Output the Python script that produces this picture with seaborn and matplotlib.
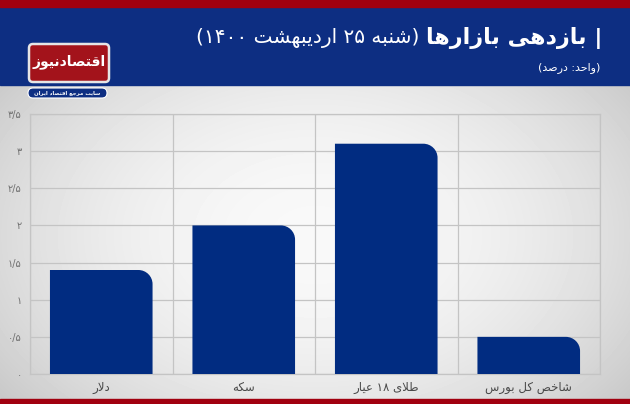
import re
import numpy as np
import pandas as pd
import matplotlib
matplotlib.use("Agg")
import matplotlib.pyplot as plt
import seaborn as sns
from matplotlib.patches import Rectangle, FancyBboxPatch, PathPatch
from matplotlib.path import Path

# data
categories = ['دلار', 'سکه', 'طلای ۱۸ عیار', 'شاخص کل بورس']
values = [1.4, 2.0, 3.1, 0.5]
ytick_values = [0, 0.5, 1, 1.5, 2, 2.5, 3, 3.5]
ytick_labels = ['۰', '۰/۵', '۱', '۱/۵', '۲', '۲/۵', '۳', '۳/۵']
title_main = '| بازدهی بازارها'
title_date = '(شنبه ۲۵ اردیبهشت ۱۴۰۰)'
subtitle = '(واحد: درصد)'
logo_name = 'اقتصادنیوز'
logo_tag = 'سایت مرجع اقتصاد ایران'

# --- tiny Persian shaper (matplotlib does no Arabic shaping / bidi) ---
FORMS = {
    'ا': ('\uFE8D', '\uFE8E', None, None),
    'ب': ('\uFE8F', '\uFE90', '\uFE91', '\uFE92'),
    'ت': ('\uFE95', '\uFE96', '\uFE97', '\uFE98'),
    'ج': ('\uFE9D', '\uFE9E', '\uFE9F', '\uFEA0'),
    'ح': ('\uFEA1', '\uFEA2', '\uFEA3', '\uFEA4'),
    'خ': ('\uFEA5', '\uFEA6', '\uFEA7', '\uFEA8'),
    'د': ('\uFEA9', '\uFEAA', None, None),
    'ر': ('\uFEAD', '\uFEAE', None, None),
    'ز': ('\uFEAF', '\uFEB0', None, None),
    'س': ('\uFEB1', '\uFEB2', '\uFEB3', '\uFEB4'),
    'ش': ('\uFEB5', '\uFEB6', '\uFEB7', '\uFEB8'),
    'ص': ('\uFEB9', '\uFEBA', '\uFEBB', '\uFEBC'),
    'ط': ('\uFEC1', '\uFEC2', '\uFEC3', '\uFEC4'),
    'ع': ('\uFEC9', '\uFECA', '\uFECB', '\uFECC'),
    'ق': ('\uFED5', '\uFED6', '\uFED7', '\uFED8'),
    'ل': ('\uFEDD', '\uFEDE', '\uFEDF', '\uFEE0'),
    'م': ('\uFEE1', '\uFEE2', '\uFEE3', '\uFEE4'),
    'ن': ('\uFEE5', '\uFEE6', '\uFEE7', '\uFEE8'),
    'ه': ('\uFEE9', '\uFEEA', '\uFEEB', '\uFEEC'),
    'و': ('\uFEED', '\uFEEE', None, None),
    'ک': ('\uFB8E', '\uFB8F', '\uFB90', '\uFB91'),
    'ی': ('\uFBFC', '\uFBFD', '\uFBFE', '\uFBFF'),
}
MIRROR = {'(': ')', ')': '('}


def dual(c):
    return c in FORMS and FORMS[c][2] is not None


def shape(s):
    out = []
    i = 0
    while i < len(s):
        c = s[i]
        if c not in FORMS:
            out.append(c)
            i += 1
            continue
        prev = s[i - 1] if i > 0 else ''
        join_prev = dual(prev)
        if c == 'ل' and i + 1 < len(s) and s[i + 1] == 'ا':
            out.append('\uFEFC' if join_prev else '\uFEFB')
            i += 2
            continue
        nxt = s[i + 1] if i + 1 < len(s) else ''
        join_next = dual(c) and nxt in FORMS
        iso, fin, ini, med = FORMS[c]
        if join_prev and join_next:
            out.append(med)
        elif join_prev:
            out.append(fin)
        elif join_next:
            out.append(ini)
        else:
            out.append(iso)
        i += 1
    return ''.join(out)


def fa(s):
    tokens = re.findall(r'[0-9\u06F0-\u06F9]+|.', shape(s))
    return ''.join(MIRROR.get(t, t) for t in reversed(tokens))


sns.set_style("white")
plt.rcParams['font.family'] = ['DejaVu Sans']

W, H = 630, 404
fig = plt.figure(figsize=(W / 100, H / 100), dpi=100)

# background layer in pixel coordinates
bg = fig.add_axes([0, 0, 1, 1], zorder=0)
bg.set_xlim(0, W)
bg.set_ylim(H, 0)
bg.axis('off')

yy, xx = np.mgrid[0:H, 0:W]
r = np.sqrt(((xx - 315) / 340.0) ** 2 + ((yy - 235) / 230.0) ** 2)
shade = np.clip(0.975 - 0.14 * r ** 2, 0.78, 1)
bg.imshow(shade, cmap='gray', vmin=0, vmax=1, extent=(0, W, H, 0), aspect='auto')

bg.add_patch(Rectangle((0, 0), W, 85, color='#0d2e82'))
bg.add_patch(Rectangle((0, 0), W, 7, color='#a1000f'))
bg.add_patch(Rectangle((0, 399), W, 5, color='#a1000f'))

# titles
t1 = bg.text(603, 38, fa(title_main), color='white', fontsize=16, fontweight='bold',
             ha='right', va='center')
bg.annotate(fa(title_date), xy=(0, 0.5), xycoords=t1, xytext=(-5, 0),
            textcoords='offset points', color='white', fontsize=14.5,
            ha='right', va='center')
bg.text(600, 68, fa(subtitle), color='white', fontsize=8, ha='right', va='center')

# logo
bg.add_patch(FancyBboxPatch((29, 44), 80, 38, boxstyle='round,pad=0,rounding_size=4',
                            fc='#a3131b', ec='#e6e6e6', lw=1.8))
bg.text(69, 62, fa(logo_name), color='white', fontsize=10, fontweight='bold',
        ha='center', va='center')
bg.add_patch(FancyBboxPatch((28, 88), 79, 10, boxstyle='round,pad=0,rounding_size=5',
                            fc='#0d2e82', ec='white', lw=0.8))
bg.text(67.5, 93, fa(logo_tag), color='white', fontsize=3.9, fontweight='bold',
        ha='center', va='center')

# chart
ax = fig.add_axes([30 / W, 1 - 374 / H, 570 / W, 260 / H], zorder=1)
ax.patch.set_alpha(0)

df = pd.DataFrame({'market': [fa(c) for c in categories], 'value': values})
bar_color = '#012c81'
sns.barplot(data=df, x='market', y='value', color=bar_color, saturation=1,
            width=0.72, ax=ax, zorder=3)

# round only the top-right corner of each bar
rx, ry = 0.1, 0.19
k = 0.5523
for p in list(ax.patches):
    x0, w, h = p.get_x(), p.get_width(), p.get_height()
    x1 = x0 + w
    verts = [(x0, 0), (x0, h), (x1 - rx, h),
             (x1 - rx + k * rx, h), (x1, h - ry + k * ry), (x1, h - ry),
             (x1, 0), (x0, 0)]
    codes = [Path.MOVETO, Path.LINETO, Path.LINETO,
             Path.CURVE4, Path.CURVE4, Path.CURVE4,
             Path.LINETO, Path.CLOSEPOLY]
    ax.add_patch(PathPatch(Path(verts, codes), fc=bar_color, ec='none', zorder=3))
    p.remove()

ax.set_ylim(0, 3.5)
ax.set_xlim(-0.5, 3.5)
ax.set_yticks(ytick_values)
ax.set_yticklabels(ytick_labels)
ax.set_xticks(np.arange(-0.5, 4, 1), minor=True)
ax.grid(axis='y', which='major', color='#c4c4c4', lw=0.9, zorder=0)
ax.grid(axis='x', which='minor', color='#c4c4c4', lw=0.9, zorder=0)
ax.tick_params(axis='both', which='both', length=0)
ax.tick_params(axis='y', pad=6, labelsize=7, labelcolor='#707070')
ax.tick_params(axis='x', pad=5, labelsize=8.5, labelcolor='#4a4a4a')
for s in ax.spines.values():
    s.set_color('#c4c4c4')
    s.set_linewidth(0.9)
ax.set_xlabel('')
ax.set_ylabel('')

fig.savefig('out.png', dpi=100)
